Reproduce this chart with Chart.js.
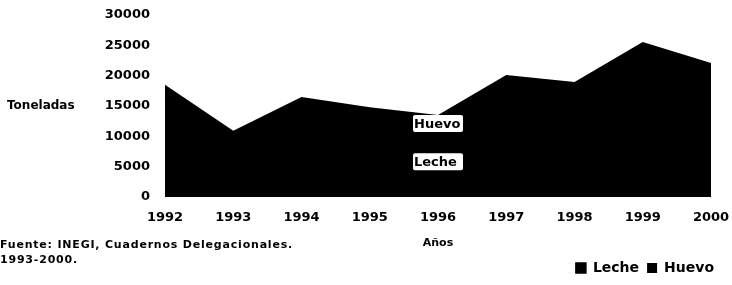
<!DOCTYPE html>
<html>
<head>
<meta charset="utf-8">
<script src="https://cdn.jsdelivr.net/npm/chart.js@4.4.1/dist/chart.umd.min.js"></script>
<style>
    html, body { margin: 0; padding: 0; background: #fff; }
    #wrap { position: relative; width: 732px; height: 285px; }
    #fuente {
        position: absolute; left: 0; top: 237px;
        font: bold 11px 'DejaVu Sans', sans-serif; line-height: 15px;
        letter-spacing: 0.8px; color: #000;
    }
</style>
</head>
<body>
<div id="wrap">
    <canvas id="chart" width="732" height="285"></canvas>
    <div id="fuente">Fuente: INEGI, Cuadernos Delegacionales.<br>1993-2000.</div>
</div>
<script>
// Producción pecuaria (toneladas)
const years = ['1992', '1993', '1994', '1995', '1996', '1997', '1998', '1999', '2000'];
const leche = [16700, 9400, 14800, 13000, 11600, 18100, 16850, 23250, 19900];
const huevo = [1800, 1500, 1700, 1800, 1900, 2000, 2100, 2300, 2200];
const yTicks = [0, 5000, 10000, 15000, 20000, 25000, 30000];
const labelYear = '1996';

const FONT = "'DejaVu Sans', sans-serif";

// Etiquetas dentro del área y título horizontal del eje Y
const innerLabels = {
    id: 'innerLabels',
    afterDatasetsDraw(chart) {
        const ctx = chart.ctx;
        const idx = years.indexOf(labelYear);
        const yScale = chart.scales.y;
        chart.data.datasets.forEach((ds, i) => {
            const pt = chart.getDatasetMeta(i).data[idx];
            const base = i === 0 ? yScale.getPixelForValue(0) : chart.getDatasetMeta(i - 1).data[idx].y;
            // centro de la capa, sin que la caja salga por arriba del área
            const cy = Math.max((pt.y + base) / 2, pt.y + 8.5);
            ctx.save();
            ctx.fillStyle = '#fff';
            ctx.beginPath();
            ctx.roundRect(pt.x - 25, cy - 8.5, 50, 17, 2);
            ctx.fill();
            ctx.clip();
            ctx.fillStyle = '#000';
            ctx.font = 'bold 13px ' + FONT;
            ctx.textBaseline = 'middle';
            ctx.fillText(ds.label, pt.x - 24, cy + 1);
            ctx.restore();
        });
    },
    afterDraw(chart) {
        const ctx = chart.ctx;
        ctx.save();
        ctx.fillStyle = '#000';
        ctx.font = 'bold 12px ' + FONT;
        ctx.textBaseline = 'middle';
        ctx.fillText('Toneladas', 7, chart.scales.y.getPixelForValue(15000));
        ctx.restore();
    }
};

new Chart(document.getElementById('chart'), {
    type: 'line',
    data: {
        labels: years,
        datasets: [{
            label: 'Leche',
            data: leche,
            backgroundColor: '#000',
            borderColor: '#000',
            borderWidth: 1.5,
            pointRadius: 0,
            fill: 'origin',
            tension: 0
        }, {
            label: 'Huevo',
            data: huevo,
            backgroundColor: '#000',
            borderColor: '#000',
            borderWidth: 0,
            pointRadius: 0,
            fill: '-1',
            tension: 0
        }]
    },
    options: {
        responsive: false,
        animation: false,
        layout: { padding: { top: 15, right: 10, left: 0, bottom: 0 } },
        plugins: {
            legend: {
                display: true,
                position: 'bottom',
                align: 'end',
                labels: {
                    color: '#000',
                    boxWidth: 10,
                    boxHeight: 10,
                    padding: 8,
                    font: { family: FONT, size: 14, weight: 'bold' }
                }
            },
            tooltip: { enabled: false }
        },
        scales: {
            x: {
                offset: false,
                grid: { display: false, drawTicks: false },
                border: { display: false },
                afterFit: (scale) => { scale.height = 56; scale.paddingRight = 21; },
                ticks: {
                    color: '#000',
                    padding: 13,
                    maxRotation: 0,
                    autoSkip: false,
                    font: { family: FONT, size: 13, weight: 'bold' }
                },
                title: {
                    display: true,
                    text: 'Años',
                    color: '#000',
                    padding: { top: 12, bottom: 3 },
                    font: { family: FONT, size: 11, weight: 'bold' }
                }
            },
            y: {
                stacked: true,
                min: 0,
                max: 30000,
                grid: { display: false, drawTicks: false },
                border: { display: false },
                afterBuildTicks: (scale) => { scale.ticks = yTicks.map(v => ({ value: v })); },
                afterFit: (scale) => { scale.width = 165; scale.paddingTop = 0; scale.paddingBottom = 0; },
                ticks: {
                    color: '#000',
                    padding: 15,
                    callback: (v) => String(v),
                    font: { family: FONT, size: 13, weight: 'bold' }
                }
            }
        }
    },
    plugins: [innerLabels]
});
</script>
</body>
</html>
